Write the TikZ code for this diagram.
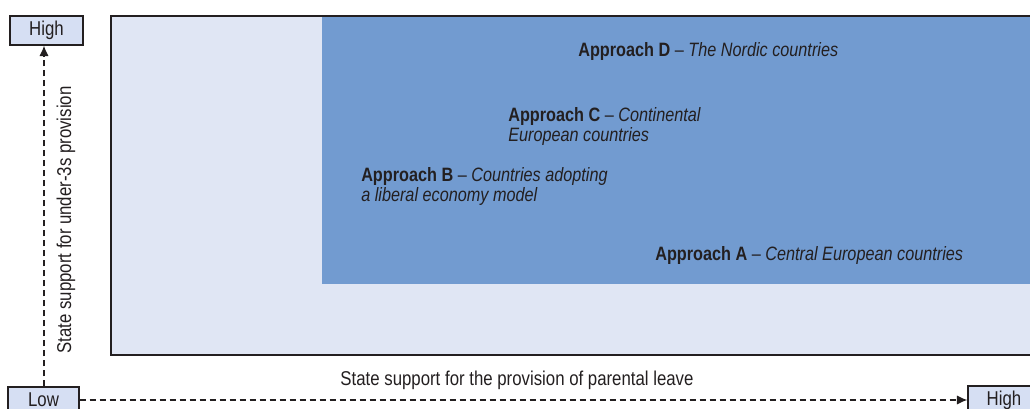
\documentclass[tikz,border=0pt]{standalone}
\usepackage{fontspec}
\setmainfont{Liberation Sans}[FakeStretch=0.84]
\usetikzlibrary{arrows.meta}
\definecolor{darkblue}{HTML}{729BD0}
\definecolor{lightblue}{HTML}{E0E6F4}
\definecolor{boxblue}{HTML}{D6DFF3}
\definecolor{ink}{HTML}{231F20}
\tikzset{
  level/.style={draw=ink, line width=0.8pt, fill=boxblue, inner sep=0pt, text=ink, font=\fontsize{15}{17}\selectfont},
  approach/.style={anchor=west, align=left, inner sep=0pt, text=ink, font=\fontsize{14.5}{15}\selectfont},
  axis/.style={dash pattern=on 4.5pt off 3pt, draw=ink, line width=1pt, -{Latex[length=8pt,width=7pt]}},
  axislabel/.style={text=ink, inner sep=0pt, font=\fontsize{15}{17}\selectfont}
}
\begin{document}
\begin{tikzpicture}[x=0.75pt,y=-0.75pt]
  \useasboundingbox (0,0) rectangle (1030,409);
  \clip (0,0) rectangle (1030,409);
  % chart area
  \draw[ink, line width=1.6pt, fill=lightblue] (111,16) rectangle (1045,355);
  \fill[darkblue] (322,17) rectangle (1045,284);
  % approaches
  \node[approach] (d) at (578,52) {\textbf{Approach D} -- \textit{The Nordic countries}};
  \node[approach] (c) at (508,127) {\textbf{Approach C} -- \textit{Continental}\\\textit{European countries}};
  \node[approach] (b) at (361,187) {\textbf{Approach B} -- \textit{Countries adopting}\\\textit{a liberal economy model}};
  \node[approach] (a) at (655,256) {\textbf{Approach A} -- \textit{Central European countries}};
  % axes
  \node[level, minimum width=73*0.75pt, minimum height=29*0.75pt] (hightop) at (46.5,30.5) {High};
  \node[level, minimum width=71*0.75pt, minimum height=26*0.75pt] (low) at (43.5,400) {Low};
  \node[level, minimum width=72*0.75pt, minimum height=28*0.75pt] (highright) at (1004,400) {High};
  \draw[axis] (low.north -| 44,0) -- (hightop.south -| 44,0);
  \draw[axis] (low.east) -- (highright.west);
  \node[axislabel, rotate=90] (ylabel) at (66,220) {State support for under-3s provision};
  \node[axislabel] (xlabel) at (517,380) {State support for the provision of parental leave};
\end{tikzpicture}
\end{document}
